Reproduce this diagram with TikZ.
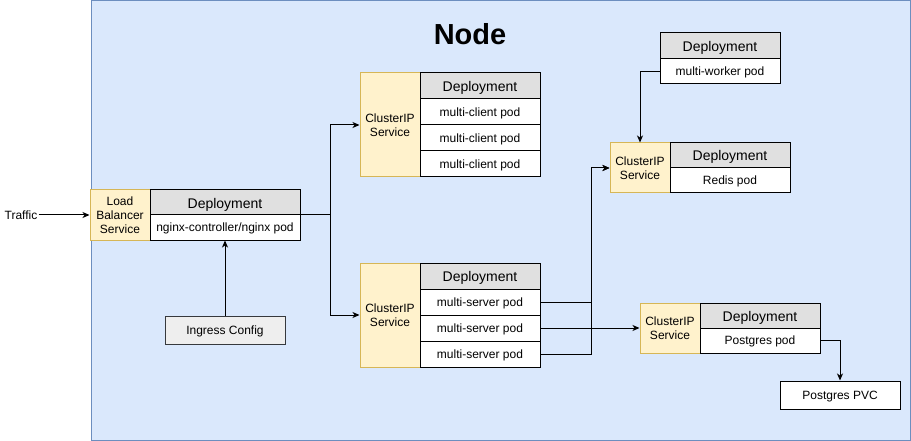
\documentclass[tikz,border=0pt]{standalone}
\usepackage{fontspec}
\setmainfont{Liberation Sans}
\usetikzlibrary{arrows.meta}
\definecolor{nodefill}{HTML}{DAE8FC}
\definecolor{nodeline}{HTML}{6C8EBF}
\definecolor{svcfill}{HTML}{FFF2CC}
\definecolor{svcline}{HTML}{D6B656}
\definecolor{hdrfill}{HTML}{E0E0E0}
\definecolor{cfgfill}{HTML}{EEEEEE}
\definecolor{cfgline}{HTML}{36393D}
\tikzset{
  base/.style={draw, line width=1pt, inner sep=1pt, align=center, font=\fontsize{12}{14}\selectfont},
  svc/.style={base, fill=svcfill, draw=svcline, minimum width=60pt},
  hdr/.style={base, fill=hdrfill, minimum height=26pt, font=\fontsize{14}{16}\selectfont, text height=11pt, text depth=0pt},
  pod/.style={base, fill=white, minimum height=26pt, text height=9pt, text depth=0.5pt},
  cfg/.style={base, fill=cfgfill, draw=cfgline, minimum width=120pt, minimum height=28pt, text height=9pt, text depth=0.5pt},
  plain/.style={base, fill=white, minimum width=120pt, minimum height=28pt, text height=9pt, text depth=0.5pt},
  conn/.style={line width=1pt, -{Stealth[length=7pt,width=6pt,inset=2pt]}},
  wire/.style={line width=1pt}
}
\begin{document}
\begin{tikzpicture}[x=1pt,y=-1pt]
\useasboundingbox (0,0) rectangle (911,441);
% outer Node container
\node[draw=nodeline, fill=nodefill, line width=1pt, minimum width=819pt, minimum height=439pt, anchor=north west, inner sep=0pt] (k8snode) at (90.5,0.5) {};
\node[font=\fontsize{29}{32}\selectfont\bfseries] (title) at (470,34) {Node};

% traffic
\node[font=\fontsize{12}{14}\selectfont, inner sep=1pt] (traffic) at (21,215) {Traffic};

% nginx
\node[svc, minimum height=50pt] (lb) at (120,215) {Load\\Balancer\\Service};
\node[hdr, minimum width=150pt, minimum height=25pt] (nh) at (225,202.5) {Deployment};
\node[pod, minimum width=150pt, minimum height=25pt] (np) at (225,227.5) {nginx-controller/nginx pod};
\node[cfg] (ing) at (225,330) {Ingress Config};

% client
\node[svc, minimum height=104pt] (cs) at (390,125) {ClusterIP\\Service};
\node[hdr, minimum width=120pt] (ch) at (480,86) {Deployment};
\node[pod, minimum width=120pt] (cp1) at (480,112) {multi-client pod};
\node[pod, minimum width=120pt] (cp2) at (480,138) {multi-client pod};
\node[pod, minimum width=120pt] (cp3) at (480,164) {multi-client pod};

% server
\node[svc, minimum height=104pt] (ss) at (390,315) {ClusterIP\\Service};
\node[hdr, minimum width=120pt] (sh) at (480,276) {Deployment};
\node[pod, minimum width=120pt] (sp1) at (480,302) {multi-server pod};
\node[pod, minimum width=120pt] (sp2) at (480,328) {multi-server pod};
\node[pod, minimum width=120pt] (sp3) at (480,354) {multi-server pod};

% worker
\node[hdr, minimum width=120pt] (wh) at (720,46) {Deployment};
\node[pod, minimum width=120pt, minimum height=25pt] (wp) at (720,71.5) {multi-worker pod};

% redis
\node[svc, minimum height=50pt] (rs) at (640,168) {ClusterIP\\Service};
\node[hdr, minimum width=120pt, minimum height=25pt] (rh) at (730,155.5) {Deployment};
\node[pod, minimum width=120pt, minimum height=25pt] (rp) at (730,180.5) {Redis pod};

% postgres
\node[svc, minimum height=50pt] (ps) at (670,328) {ClusterIP\\Service};
\node[hdr, minimum width=120pt, minimum height=25pt] (ph) at (760,315.5) {Deployment};
\node[pod, minimum width=120pt, minimum height=25pt] (pp) at (760,340.5) {Postgres pod};
\node[plain] (pvc) at (840,395) {Postgres PVC};

% connectors
\draw[conn] (traffic.east) -- (lb.west);
\draw[conn] (ing.north) -- (np.south);
\draw[conn] (np.north east) -- ++(30,0) |- (cs.west);
\draw[conn] (np.north east) -- ++(30,0) |- (ss.west);
\draw[conn] (sp1.east) -- ++(51,0) |- (rs.west);
\draw[conn] (sp3.east) -- ++(51,0) |- (rs.west);
\draw[conn] (sp2.east) -- (ps.west);
\draw[conn] (wp.west) -| (rs.north);
\draw[conn] (pp.east) -| (pvc.north);
\end{tikzpicture}
\end{document}
